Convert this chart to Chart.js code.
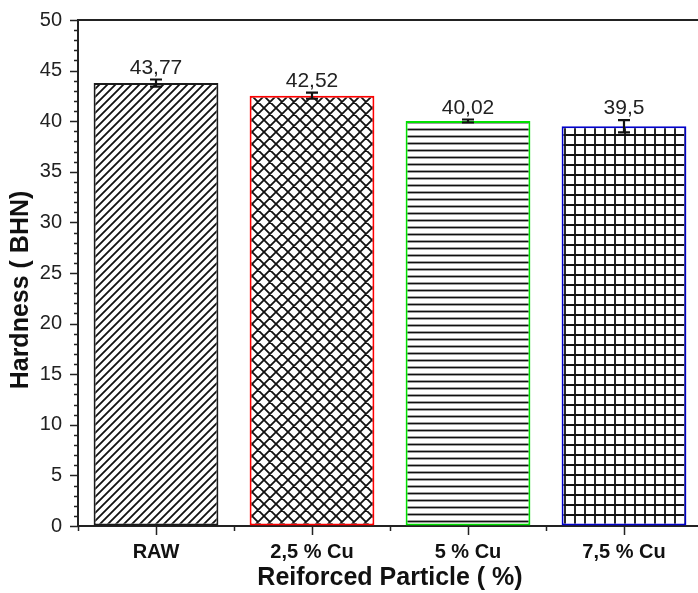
<!DOCTYPE html>
<html>
<head>
<meta charset="utf-8">
<script src="https://cdn.jsdelivr.net/npm/chart.js@4.4.1/dist/chart.umd.min.js"></script>
<style>
  html, body { margin: 0; padding: 0; background: #fff; overflow: hidden; }
  #wrap { width: 706px; height: 593px; }
</style>
</head>
<body>
<div id="wrap"><canvas id="chart" width="706" height="593"></canvas></div>
<script>
const categories = ['RAW', '2,5 % Cu', '5 % Cu', '7,5 % Cu'];
const hardness = [43.77, 42.52, 40.02, 39.5];
const errors = [0.35, 0.3, 0.15, 0.6];
const valueLabels = ['43,77', '42,52', '40,02', '39,5'];
const edgeColors = ['#1a1a1a', '#ff0000', '#00e000', '#0000cc'];
const yTitle = 'Hardness ( BHN)';

// hatch fills
function hatch(kind) {
  const size = { diag: 8, cross: 12, horiz: 7, grid: 10 }[kind];
  const c = document.createElement('canvas');
  c.width = size; c.height = size;
  const g = c.getContext('2d');
  g.fillStyle = '#fff';
  g.fillRect(0, 0, size, size);
  g.strokeStyle = '#111';
  g.lineWidth = 1.8;
  g.beginPath();
  if (kind === 'diag' || kind === 'cross') {
    g.moveTo(-1, size + 1); g.lineTo(size + 1, -1);
    g.moveTo(-1, 1); g.lineTo(1, -1);
    g.moveTo(size - 1, size + 1); g.lineTo(size + 1, size - 1);
  }
  if (kind === 'cross') {
    g.moveTo(-1, -1); g.lineTo(size + 1, size + 1);
    g.moveTo(size - 1, -1); g.lineTo(size + 1, 1);
    g.moveTo(-1, size - 1); g.lineTo(1, size + 1);
  }
  if (kind === 'horiz' || kind === 'grid') {
    g.moveTo(0, size / 2); g.lineTo(size, size / 2);
  }
  if (kind === 'grid') {
    g.moveTo(size / 2, 0); g.lineTo(size / 2, size);
  }
  g.stroke();
  return g.createPattern(c, 'repeat');
}
const fills = [hatch('diag'), hatch('cross'), hatch('horiz'), hatch('grid')];

const extras = {
  id: 'extras',
  afterDraw(chart) {
    const ctx = chart.ctx;
    const { left, right, top, bottom } = chart.chartArea;
    const y = chart.scales.y, x = chart.scales.x;
    ctx.save();
    ctx.strokeStyle = '#222';
    ctx.lineWidth = 2;
    // top frame
    ctx.beginPath();
    ctx.moveTo(left, top); ctx.lineTo(right, top);
    ctx.stroke();
    // y ticks
    ctx.lineWidth = 1.5;
    ctx.beginPath();
    for (let v = 0; v <= 50; v++) {
      const py = Math.round(y.getPixelForValue(v)) + 0.5;
      const len = v % 5 === 0 ? 8 : 4;
      ctx.moveTo(left - len, py); ctx.lineTo(left, py);
    }
    // x ticks
    const step = (right - left) / categories.length;
    for (let i = 0; i <= categories.length; i++) {
      const px = Math.round(left + i * step) + 0.5;
      ctx.moveTo(px, bottom); ctx.lineTo(px, bottom + 5);
    }
    categories.forEach((c, i) => {
      const px = Math.round(x.getPixelForValue(i)) + 0.5;
      ctx.moveTo(px, bottom); ctx.lineTo(px, bottom + 9);
    });
    ctx.stroke();
    // error bars and values
    const meta = chart.getDatasetMeta(0);
    ctx.lineWidth = 2.2;
    ctx.strokeStyle = '#111';
    ctx.fillStyle = '#222';
    ctx.font = '21px "Liberation Sans", Arial, sans-serif';
    ctx.textAlign = 'center';
    ctx.textBaseline = 'bottom';
    meta.data.forEach((bar, i) => {
      const cx = Math.round(bar.x);
      const hi = y.getPixelForValue(hardness[i] + errors[i]);
      const lo = y.getPixelForValue(hardness[i] - errors[i]);
      ctx.beginPath();
      ctx.moveTo(cx, hi); ctx.lineTo(cx, lo);
      ctx.moveTo(cx - 6, hi); ctx.lineTo(cx + 6, hi);
      ctx.moveTo(cx - 6, lo); ctx.lineTo(cx + 6, lo);
      ctx.stroke();
      ctx.fillText(valueLabels[i], cx, hi - 1);
    });
    // y axis title (sits a bit below the axis middle in the original)
    ctx.fillStyle = '#111';
    ctx.font = 'bold 25px "Liberation Sans", Arial, sans-serif';
    ctx.textBaseline = 'middle';
    ctx.translate(21, 290);
    ctx.rotate(-Math.PI / 2);
    ctx.fillText(yTitle, 0, 0);
    ctx.restore();
  }
};

new Chart(document.getElementById('chart'), {
  type: 'bar',
  data: {
    labels: categories,
    datasets: [{
      data: hardness,
      backgroundColor: fills,
      borderColor: edgeColors,
      borderWidth: 2,
      borderSkipped: false,
      barPercentage: 0.8,
      categoryPercentage: 1
    }]
  },
  options: {
    responsive: false,
    animation: false,
    layout: { padding: { top: 20, right: 4, left: 0, bottom: 0 } },
    plugins: { legend: { display: false }, tooltip: { enabled: false } },
    scales: {
      x: {
        afterFit: s => { s.height = 67; },
        grid: { display: true, drawOnChartArea: false, tickColor: 'rgba(0,0,0,0)', tickLength: 9 },
        border: { display: true, color: '#222', width: 2 },
        ticks: {
          color: '#111', padding: 5,
          font: { family: '"Liberation Sans", Arial, sans-serif', size: 20, weight: 'bold' }
        },
        title: {
          display: true, text: 'Reiforced Particle ( %)', color: '#111',
          padding: { top: 0, bottom: 0 },
          font: { family: '"Liberation Sans", Arial, sans-serif', size: 25, weight: 'bold' }
        }
      },
      y: {
        min: 0, max: 50,
        afterFit: s => { s.width = 78; },
        grid: { display: true, drawOnChartArea: false, tickColor: 'rgba(0,0,0,0)', tickLength: 8 },
        border: { display: true, color: '#222', width: 2 },
        ticks: {
          stepSize: 5, color: '#222', padding: 8,
          font: { family: '"Liberation Sans", Arial, sans-serif', size: 20 }
        }
      }
    }
  },
  plugins: [extras]
});
</script>
</body>
</html>
